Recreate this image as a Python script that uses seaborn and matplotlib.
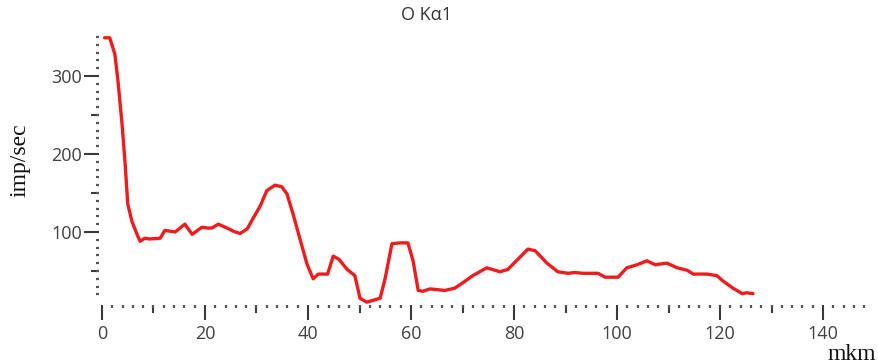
import numpy as np
import matplotlib
matplotlib.use("Agg")
import matplotlib.pyplot as plt
from matplotlib.ticker import MultipleLocator, FixedLocator, NullFormatter
import seaborn as sns

# O Kα1 line scan: intensity (imp/sec) vs. distance (mkm)
distance = [0.5, 1.5, 2.5, 3.1, 3.9, 4.5, 5.0, 5.8, 6.8, 7.4, 8.3, 9.3, 11.3,
            12.2, 14.2, 16.1, 17.5, 19.4, 20.6, 21.3, 22.6, 24.3, 25.5, 26.8,
            28.2, 29.3, 30.7, 32.0, 33.6, 34.9, 35.9, 37.1, 38.4, 39.8, 41.0,
            42.0, 43.8, 44.9, 46.0, 47.6, 49.1, 50.1, 51.4, 54.0, 55.0, 56.3,
            57.9, 59.4, 60.4, 61.4, 62.3, 63.7, 66.6, 68.5, 70.1, 72.0, 74.7,
            77.3, 78.8, 80.6, 82.7, 84.1, 86.4, 88.5, 90.5, 91.8, 93.4, 95.3,
            96.3, 97.7, 100.2, 101.9, 103.9, 105.8, 107.4, 109.7, 111.7, 113.6,
            114.8, 117.5, 119.4, 120.6, 122.5, 124.3, 125.2, 126.4]
intensity = [349, 349, 328, 294, 238, 187, 136, 114, 97, 88, 92, 91, 92,
             102, 100, 110, 97, 106, 105, 105, 110, 105, 101, 98,
             104, 117, 133, 153, 160, 158, 149, 123, 92, 59, 40,
             46, 46, 69, 65, 52, 44, 15, 10, 15, 41, 85,
             86, 86, 63, 25, 24, 27, 25, 28, 35, 44, 54,
             49, 52, 64, 78, 76, 60, 49, 47, 48, 47, 47,
             47, 42, 42, 54, 58, 63, 58, 60, 54, 51,
             46, 46, 44, 37, 28, 21, 22, 21]

x_major = [0, 20, 40, 60, 80, 100, 120, 140]
x_labels = ["0", "20", "40", "60", "80", "100", "120", "140"]
y_major = [100, 200, 300]
y_labels = ["100", "200", "300"]

sns.set_style("white")
plt.rcParams["font.family"] = ["Open Sans", "DejaVu Sans"]

W, H = 879, 364
fig = plt.figure(figsize=(W / 100, H / 100), dpi=100)
ax = fig.add_axes([98.9 / W, (H - 304.5) / H, 767.9 / W, 267.5 / H])

sns.lineplot(x=distance, y=intensity, ax=ax, color="#ee1c1c",
             linewidth=2.4, clip_on=False, solid_joinstyle="round",
             solid_capstyle="round")

ax.set_xlim(-0.6, 148.5)
ax.set_ylim(7, 350)
for s in ax.spines.values():
    s.set_visible(False)

tick_col = "#3a3a3a"
lab_col = "#404040"

# major ticks with labels
ax.xaxis.set_major_locator(FixedLocator(x_major))
ax.set_xticklabels(x_labels)
ax.yaxis.set_major_locator(FixedLocator(y_major))
ax.set_yticklabels(y_labels)
# dotted axes made of minor ticks
ax.xaxis.set_minor_locator(MultipleLocator(2))
ax.yaxis.set_minor_locator(FixedLocator(np.arange(20, 351, 10)))
ax.tick_params(axis="both", which="major", direction="out", length=10.5,
               width=1.5, color=tick_col, labelcolor=lab_col, labelsize=13,
               bottom=True, left=True)
ax.tick_params(axis="x", which="major", pad=4)
ax.tick_params(axis="y", which="major", pad=1.5)
ax.tick_params(axis="both", which="minor", direction="out", length=2.3,
               width=1.6, color="#555555", bottom=True, left=True)

# intermediate ticks
secx = ax.secondary_xaxis("bottom")
secx.xaxis.set_major_locator(FixedLocator(np.arange(10, 150, 20)))
secx.xaxis.set_major_formatter(NullFormatter())
secx.tick_params(direction="out", length=5.5, width=1.5, color=tick_col)
secx.spines["bottom"].set_visible(False)

secy = ax.secondary_yaxis("left")
secy.yaxis.set_major_locator(FixedLocator([50, 150, 250]))
secy.yaxis.set_major_formatter(NullFormatter())
secy.tick_params(direction="out", length=5.5, width=1.5, color=tick_col)
secy.spines["left"].set_visible(False)

ax.set_xlabel("")
ax.set_ylabel("")

fig.text(427 / W, 1 - 15 / H, "O Kα1", ha="center", va="center",
         fontsize=13, color="#333333")
fig.text(20 / W, 1 - 160 / H, "imp/sec", rotation=90, ha="center",
         va="center", fontsize=17, color="#111111",
         family=["Liberation Serif", "DejaVu Serif"])
fig.text(852 / W, 1 - 354 / H, "mkm", ha="center", va="center",
         fontsize=17, color="#111111",
         family=["Liberation Serif", "DejaVu Serif"])

fig.savefig("out.png", dpi=100)
